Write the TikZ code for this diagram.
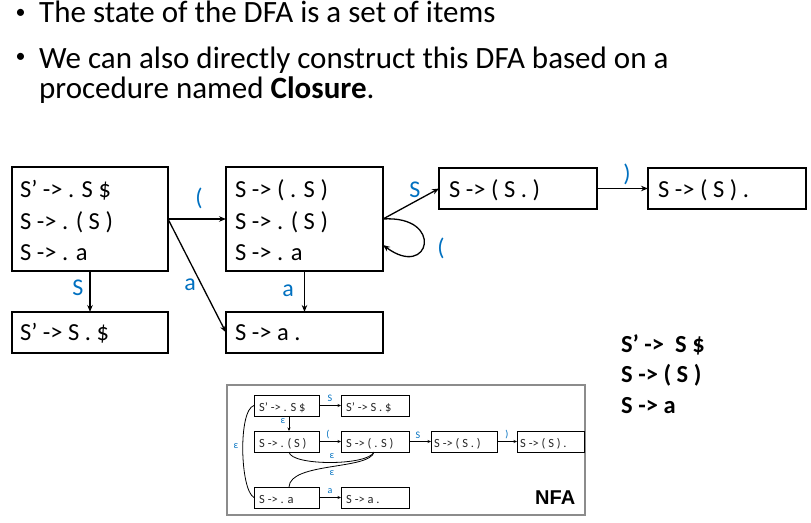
\documentclass[tikz,border=0pt]{standalone}
\usepackage{fontspec}
\setmainfont{Carlito}
\newfontfamily\arialfont{Liberation Sans}
\usetikzlibrary{arrows.meta,calc}
\definecolor{lblue}{RGB}{0,112,192}
\begin{document}
\begin{tikzpicture}[x=1pt,y=-1pt,
  dbox/.style={draw, line width=1.8pt, inner sep=0pt, outer sep=0pt, anchor=north west},
  dtxt/.style={inner sep=0pt, anchor=base west, font=\fontsize{24.5}{30}\selectfont},
  gtxt/.style={inner sep=0pt, anchor=base west, font=\fontsize{24.5}{30}\selectfont\bfseries},
  ttxt/.style={inner sep=0pt, anchor=base west, font=\fontsize{31}{36}\selectfont},
  btxt/.style={inner sep=0pt, font=\fontsize{20}{22}\selectfont},
  dlbl/.style={inner sep=0pt, text=lblue, font=\fontsize{24}{30}\selectfont},
  darr/.style={line width=1.3pt, -{Stealth[length=7pt,width=5.5pt]}},
  nbox/.style={draw, line width=0.9pt, inner sep=0pt, outer sep=0pt, anchor=north west},
  ntxt/.style={inner sep=0pt, anchor=base west, font=\fontsize{12.5}{14}\selectfont, text=black!85},
  nlbl/.style={inner sep=0pt, text=lblue, font=\fontsize{10}{12}\selectfont},
  narr/.style={line width=0.8pt, -{Stealth[length=3.5pt,width=3pt]}},
  nbarr/.style={line width=1.6pt, -{Stealth[length=3.5pt,width=3pt]}},
  ncurve/.style={line width=0.8pt}
]
\useasboundingbox (0,0) rectangle (811,522);

% ---- bullet text ----
\node[btxt] (b1) at (20.5,14) {•};
\node[btxt] (b2) at (20.5,58) {•};
\node[ttxt] (t1) at (39,23) {The state of the DFA is a set of items};
\node[ttxt] (t2) at (39,68) {We can also directly construct this DFA based on a};
\node[ttxt] (t3) at (39,98) {procedure named \textbf{Closure}.};

% ---- DFA boxes ----
\node[dbox, minimum width=156pt, minimum height=104pt] (A) at (12,167) {};
\node[dbox, minimum width=157pt, minimum height=104pt] (B) at (226,167) {};
\node[dbox, minimum width=156pt, minimum height=41pt] (Ap) at (12,312) {};
\node[dbox, minimum width=157pt, minimum height=41pt] (Sa) at (226,312) {};
\node[dbox, minimum width=158pt, minimum height=41pt] (C) at (439,168) {};
\node[dbox, minimum width=158pt, minimum height=41pt] (D) at (648,168) {};

\node[dtxt] (A1) at (20,197) {S’ -> . S \$};
\node[dtxt] (A2) at (20,229) {S -> . ( S )};
\node[dtxt] (A3) at (20,260) {S -> . a};
\node[dtxt] (B1) at (235,197) {S -> ( . S )};
\node[dtxt] (B2) at (235,229) {S -> . ( S )};
\node[dtxt] (B3) at (235,260) {S -> . a};
\node[dtxt] (Ap1) at (20,340) {S’ -> S . \$};
\node[dtxt] (Sa1) at (235,340) {S -> a .};
\node[dtxt] (C1) at (449,197) {S -> ( S . )};
\node[dtxt] (D1) at (658,197) {S -> ( S ) .};

% ---- DFA connectors ----
\coordinate (Bin) at (383,245);
\draw[darr] (A.east) -- (B.west);
\draw[darr] (A.east) -- (Sa.west);
\draw[darr] (A.south) -- (Ap.north);
\draw[darr] (B.south) -- (Sa.north);
\draw[darr] (B.east) -- (C.west);
\draw[darr] (B.east) .. controls (445,215) and (430,280) .. (Bin);
\draw[darr] (C.east) -- (D.west);

\node[dlbl] (l1) at (199,198) {(};
\node[dlbl] (l2) at (190,285) {a};
\node[dlbl] (l3) at (78,288) {S};
\node[dlbl] (l4) at (288,291) {a};
\node[dlbl] (l5) at (415,190) {S};
\node[dlbl] (l6) at (441,248) {(};
\node[dlbl] (l7) at (627,174) {)};

% ---- grammar ----
\node[gtxt] (g1) at (621,352) {S’ ->\hspace{0.45em}S \$};
\node[gtxt] (g2) at (621,382) {S -> ( S )};
\node[gtxt] (g3) at (621,413) {S -> a};

% ---- NFA inset ----
\node[draw=black!45, line width=1.5pt, inner sep=0pt, outer sep=0pt, anchor=north west,
      minimum width=358pt, minimum height=130pt] (frame) at (227,385) {};
\node[nbox, minimum width=65pt, minimum height=21pt] (n1) at (254,395) {};
\node[nbox, minimum width=68pt, minimum height=21pt] (n2) at (341,395) {};
\node[nbox, minimum width=65pt, minimum height=21pt] (n3) at (254,431) {};
\node[nbox, minimum width=68pt, minimum height=21pt] (n4) at (341,431) {};
\node[nbox, minimum width=66pt, minimum height=21pt] (n5) at (431,431) {};
\node[nbox, minimum width=67pt, minimum height=21pt] (n6) at (517,431) {};
\node[nbox, minimum width=65pt, minimum height=21pt] (n7) at (254,487) {};
\node[nbox, minimum width=68pt, minimum height=21pt] (n8) at (341,487) {};

\node[ntxt] (m1) at (259,411) {S’ -> . S \$};
\node[ntxt] (m2) at (346,411) {S’ -> S . \$};
\node[ntxt] (m3) at (259,447) {S -> . ( S )};
\node[ntxt] (m4) at (346,447) {S -> ( . S )};
\node[ntxt] (m5) at (434,447) {S -> ( S . )};
\node[ntxt] (m6) at (520,447) {S -> ( S ) .};
\node[ntxt] (m7) at (259,503) {S -> . a};
\node[ntxt] (m8) at (346,503) {S -> a .};

\draw[narr] (n1.east) -- (n2.west);
\draw[narr] ($(n1.south)+(2.5,0)$) -- ($(n3.north)+(2.5,0)$);
\draw[nbarr] (n3.east) -- (n4.west);
\draw[nbarr] (n4.east) -- (n5.west);
\draw[nbarr] (n5.east) -- (n6.west);
\draw[narr] (n7.east) -- (n8.west);
\draw[ncurve] (n1.west) .. controls (238,410) and (240,490) .. (n7.west);
\draw[ncurve] ($(n3.south)+(2.5,0)$) .. controls (291,466) and (368,466) .. ($(n4.south)+(-1,0)$);
\draw[ncurve] ($(n4.south)+(-1,0)$) .. controls (370,470) and (290,462) .. ($(n7.north)+(2.5,0)$);

\node[nlbl] (k1) at (330,398) {S};
\node[nlbl] (k2) at (283,421) {ε};
\node[nlbl] (k3) at (328,435) {(};
\node[nlbl] (k4) at (418,435) {S};
\node[nlbl] (k5) at (507,435) {)};
\node[nlbl] (k6) at (236,446) {ε};
\node[nlbl] (k7) at (332,456) {ε};
\node[nlbl] (k8) at (332,473) {ε};
\node[nlbl] (k9) at (330,491) {a};
\node[inner sep=0pt, anchor=base west, font=\arialfont\bfseries\fontsize{20}{24}\selectfont] (nfa) at (535,504) {NFA};
\end{tikzpicture}
\end{document}
